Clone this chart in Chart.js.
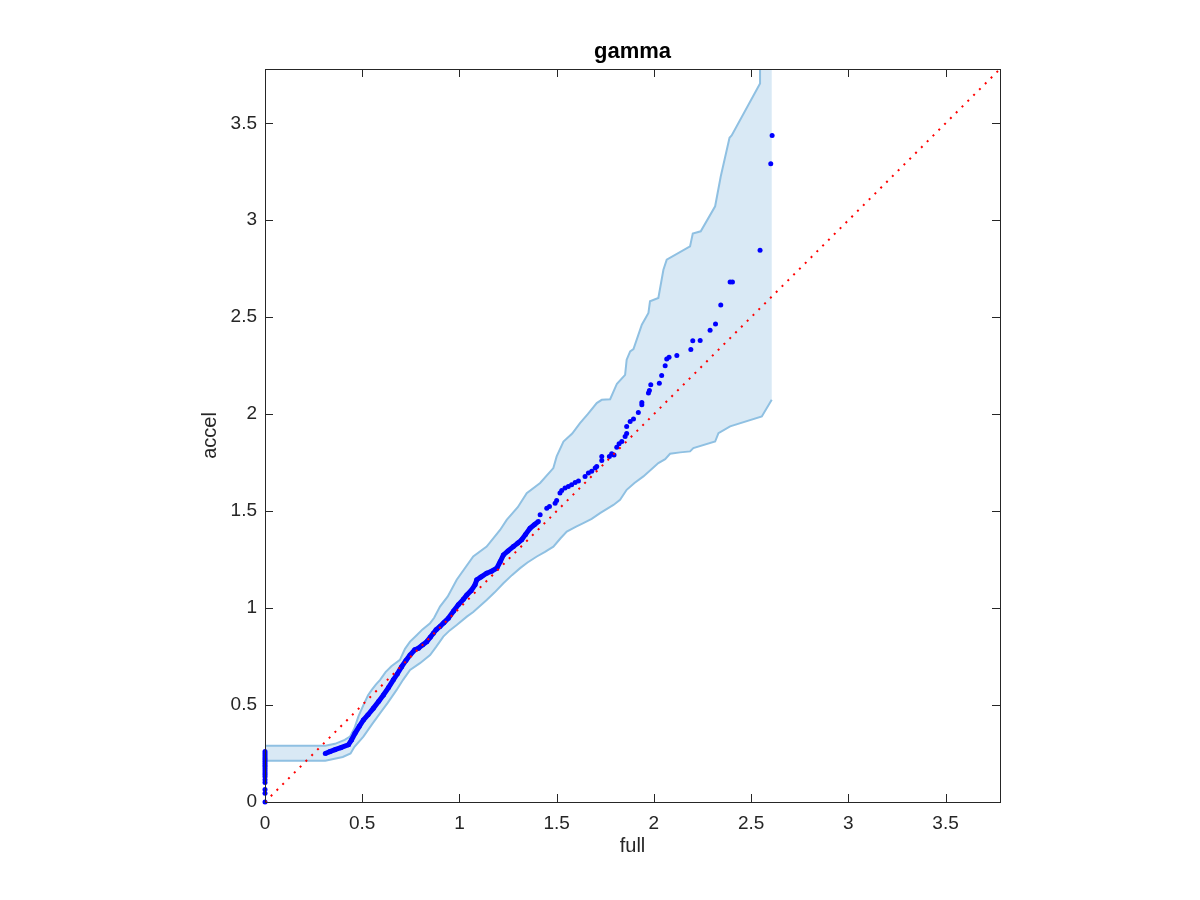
<!DOCTYPE html>
<html>
<head>
<meta charset="utf-8">
<script src="https://cdn.jsdelivr.net/npm/chart.js@4.4.1/dist/chart.umd.min.js"></script>
<style>
  body { margin: 0; background: #fff; }
  #wrap { width: 1200px; height: 900px; }
</style>
</head>
<body>
<div id="wrap"><canvas id="qq"></canvas></div>
<script>
// valori (quantili "full" vs "accel")
const titolo = 'gamma';
const axisMax = 3.78;
const tickVals = [0, 0.5, 1, 1.5, 2, 2.5, 3, 3.5];

// punti sull'asse x = 0
const zeroY = [0, 0.045, 0.065, 0.1, 0.115, 0.13, 0.14, 0.15, 0.16, 0.17, 0.18, 0.19, 0.2, 0.21, 0.22, 0.23, 0.24, 0.25, 0.26];

// tratto denso della curva
const denseX = [0.31, 0.334, 0.36, 0.39, 0.429, 0.445, 0.463, 0.485, 0.506, 0.53, 0.557, 0.585, 0.609, 0.635, 0.66, 0.68, 0.703, 0.725, 0.746, 0.77, 0.789, 0.81, 0.832, 0.85, 0.866, 0.88, 0.9, 0.92, 0.943, 0.97, 0.994, 1.02, 1.038, 1.06, 1.08, 1.089, 1.11, 1.14, 1.165, 1.192, 1.21, 1.226, 1.25, 1.277, 1.3, 1.32, 1.34, 1.363, 1.385, 1.406];
const denseY = [0.25, 0.26, 0.27, 0.28, 0.295, 0.32, 0.354, 0.39, 0.423, 0.45, 0.483, 0.52, 0.552, 0.59, 0.63, 0.66, 0.698, 0.73, 0.758, 0.785, 0.793, 0.81, 0.827, 0.85, 0.87, 0.888, 0.905, 0.925, 0.948, 0.985, 1.017, 1.045, 1.068, 1.09, 1.12, 1.146, 1.16, 1.18, 1.19, 1.206, 1.24, 1.274, 1.295, 1.317, 1.335, 1.352, 1.38, 1.412, 1.43, 1.446];

// punti sparsi
const sparseX = [1.415, 1.449, 1.463, 1.492, 1.5, 1.517, 1.526, 1.543, 1.56, 1.577, 1.595, 1.612, 1.646, 1.663, 1.68, 1.698, 1.706, 1.732, 1.732, 1.771, 1.783, 1.795, 1.809, 1.821, 1.835, 1.852, 1.86, 1.86, 1.878, 1.895, 1.92, 1.938, 1.938, 1.972, 1.977, 1.984, 2.028, 2.04, 2.058, 2.066, 2.078, 2.118, 2.19, 2.2, 2.238, 2.289, 2.317, 2.344, 2.392, 2.404, 2.546, 2.601, 2.608];
const sparseY = [1.481, 1.515, 1.524, 1.541, 1.555, 1.593, 1.606, 1.619, 1.627, 1.636, 1.648, 1.656, 1.679, 1.696, 1.705, 1.722, 1.73, 1.761, 1.782, 1.782, 1.796, 1.79, 1.83, 1.847, 1.859, 1.885, 1.9, 1.937, 1.962, 1.975, 2.009, 2.048, 2.06, 2.109, 2.122, 2.152, 2.16, 2.199, 2.25, 2.284, 2.293, 2.303, 2.334, 2.379, 2.38, 2.433, 2.465, 2.563, 2.682, 2.682, 2.845, 3.292, 3.437];

// banda di confidenza
const upperX = [0, 0.31, 0.36, 0.41, 0.437, 0.46, 0.48, 0.506, 0.53, 0.549, 0.57, 0.592, 0.62, 0.65, 0.694, 0.72, 0.746, 0.78, 0.81, 0.849, 0.87, 0.9, 0.94, 0.986, 1.071, 1.14, 1.209, 1.243, 1.3, 1.346, 1.415, 1.483, 1.5, 1.535, 1.58, 1.62, 1.66, 1.706, 1.732, 1.775, 1.8, 1.81, 1.852, 1.86, 1.878, 1.895, 1.938, 1.972, 1.98, 2.023, 2.049, 2.066, 2.186, 2.2, 2.241, 2.315, 2.344, 2.389, 2.4, 2.546, 2.546, 2.606];
const upperY = [0.29, 0.29, 0.3, 0.32, 0.337, 0.38, 0.44, 0.5, 0.55, 0.578, 0.605, 0.63, 0.67, 0.7, 0.733, 0.79, 0.827, 0.86, 0.89, 0.922, 0.95, 1.008, 1.06, 1.146, 1.266, 1.317, 1.403, 1.455, 1.52, 1.593, 1.645, 1.722, 1.782, 1.859, 1.9, 1.954, 2.0, 2.057, 2.074, 2.077, 2.134, 2.157, 2.203, 2.281, 2.324, 2.336, 2.461, 2.522, 2.582, 2.599, 2.745, 2.797, 2.865, 2.931, 2.943, 3.072, 3.227, 3.425, 3.437, 3.705, 4.3, 4.6];
const lowerX = [0, 0, 0.31, 0.4, 0.44, 0.46, 0.506, 0.55, 0.592, 0.63, 0.677, 0.71, 0.746, 0.797, 0.849, 0.88, 0.917, 0.95, 0.986, 1.038, 1.071, 1.14, 1.18, 1.226, 1.27, 1.312, 1.35, 1.398, 1.44, 1.483, 1.52, 1.552, 1.6, 1.637, 1.68, 1.723, 1.792, 1.826, 1.86, 1.9, 1.946, 2.023, 2.058, 2.083, 2.135, 2.186, 2.203, 2.315, 2.332, 2.392, 2.555, 2.606];
const lowerY = [0, 0.213, 0.213, 0.232, 0.25, 0.285, 0.337, 0.4, 0.458, 0.51, 0.578, 0.63, 0.681, 0.716, 0.758, 0.8, 0.853, 0.885, 0.913, 0.956, 0.98, 1.042, 1.08, 1.128, 1.17, 1.206, 1.235, 1.266, 1.29, 1.317, 1.36, 1.395, 1.42, 1.438, 1.46, 1.49, 1.532, 1.558, 1.61, 1.645, 1.679, 1.748, 1.768, 1.796, 1.803, 1.808, 1.825, 1.859, 1.902, 1.937, 1.988, 2.074];

// retta di riferimento y = x
const refX = [0, axisMax];
const refY = [0, axisMax];

const tickLen = 8;
const fontName = '"Liberation Sans", Arial, Helvetica, sans-serif';
const blu = '#0000ff';
const bordoBanda = 'rgb(143,192,226)';
const fondoBanda = 'rgb(217,233,245)';

function punti(xs, ys) {
  return xs.map((v, i) => ({ x: v, y: ys[i] }));
}

// poligono chiuso: bordo superiore + bordo inferiore al contrario
const bandaPoly = punti(upperX, upperY).concat(punti(lowerX, lowerY).reverse());

// box con tacche verso l'interno su tutti i lati + titolo centrato sull'area
const boxPlugin = {
  id: 'boxMatlab',
  afterDatasetsDraw(chart) {
    const { ctx, chartArea: a, scales: { x, y } } = chart;
    ctx.save();
    ctx.strokeStyle = '#262626';
    ctx.lineWidth = 1;
    ctx.beginPath();
    tickVals.forEach(v => {
      const px = Math.round(x.getPixelForValue(v)) + 0.5;
      ctx.moveTo(px, a.bottom);
      ctx.lineTo(px, a.bottom - tickLen);
      ctx.moveTo(px, a.top);
      ctx.lineTo(px, a.top + tickLen);
      const py = Math.round(y.getPixelForValue(v)) + 0.5;
      ctx.moveTo(a.left, py);
      ctx.lineTo(a.left + tickLen, py);
      ctx.moveTo(a.right, py);
      ctx.lineTo(a.right - tickLen, py);
    });
    ctx.stroke();
    ctx.strokeRect(Math.round(a.left) + 0.5, Math.round(a.top) + 0.5, Math.round(a.width), Math.round(a.height));

    ctx.fillStyle = '#000';
    ctx.font = 'bold 22px ' + fontName;
    ctx.textAlign = 'center';
    ctx.textBaseline = 'middle';
    ctx.fillText(titolo, (a.left + a.right) / 2, a.top - 17);
    ctx.restore();
  }
};

function asse(testo, pad) {
  return {
    type: 'linear',
    min: 0,
    max: axisMax,
    grid: { display: false, drawTicks: false },
    border: { display: false },
    afterBuildTicks: s => { s.ticks = tickVals.map(v => ({ value: v })); },
    ticks: {
      padding: 8,
      color: '#262626',
      font: { family: fontName, size: 19 },
      callback: v => String(v)
    },
    title: {
      display: true,
      text: testo,
      color: '#262626',
      font: { family: fontName, size: 20 },
      padding: pad
    }
  };
}

const xAxis = asse('full', { top: 0, bottom: 42 });
xAxis.ticks.padding = 10;
xAxis.afterFit = s => { s.height = 98; };
const yAxis = asse('accel', { top: 8, bottom: 0 });
yAxis.afterFit = s => { s.width = 75; };

new Chart(document.getElementById('qq'), {
  type: 'scatter',
  data: {
    datasets: [
      {
        data: punti(refX, refY),
        showLine: true,
        borderColor: '#ff0000',
        borderWidth: 2,
        borderDash: [2, 6.2],
        pointRadius: 0,
        order: 0
      },
      {
        data: zeroY.map(v => ({ x: 0, y: v })),
        pointRadius: 2.5,
        pointBorderWidth: 0,
        backgroundColor: blu,
        clip: false,
        order: 1
      },
      {
        data: punti(denseX, denseY),
        showLine: true,
        borderColor: blu,
        borderWidth: 5,
        pointRadius: 2.5,
        pointBorderWidth: 0,
        backgroundColor: blu,
        order: 1
      },
      {
        data: punti(sparseX, sparseY),
        pointRadius: 2.5,
        pointBorderWidth: 0,
        backgroundColor: blu,
        clip: false,
        order: 1
      },
      {
        data: punti(upperX, upperY),
        showLine: true,
        borderColor: bordoBanda,
        borderWidth: 2,
        pointRadius: 0,
        order: 2
      },
      {
        data: punti(lowerX, lowerY),
        showLine: true,
        borderColor: bordoBanda,
        borderWidth: 2,
        pointRadius: 0,
        order: 2
      },
      {
        data: bandaPoly,
        showLine: true,
        fill: 'shape',
        borderWidth: 0,
        borderColor: 'rgba(0,0,0,0)',
        backgroundColor: fondoBanda,
        pointRadius: 0,
        order: 3
      }
    ]
  },
  options: {
    responsive: true,
    maintainAspectRatio: false,
    animation: false,
    events: [],
    layout: { padding: { left: 190, right: 200, top: 69, bottom: 0 } },
    scales: { x: xAxis, y: yAxis },
    plugins: {
      legend: { display: false },
      tooltip: { enabled: false },
      title: { display: false }
    }
  },
  plugins: [boxPlugin]
});
</script>
</body>
</html>
